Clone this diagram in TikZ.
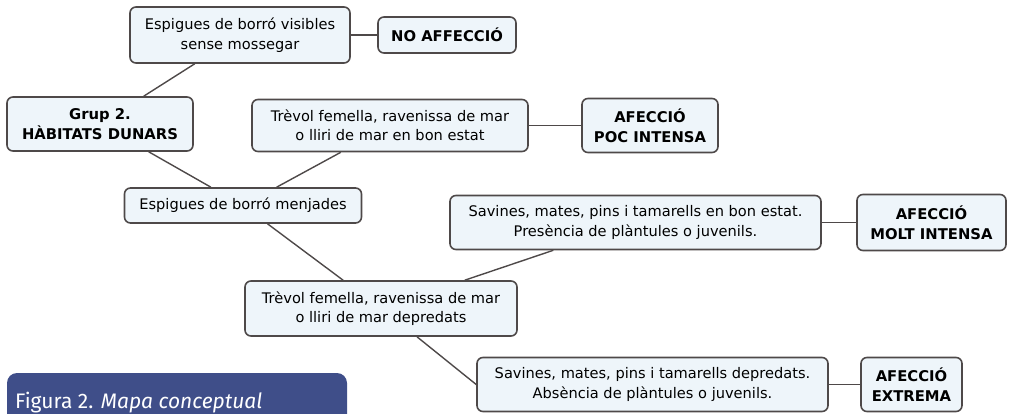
\documentclass[tikz,border=0pt]{standalone}
\usepackage{fontspec}
\setmainfont{DejaVu Sans}
\newfontfamily\peufont{Fira Sans}
\usepackage{tikz}

\definecolor{vora}{HTML}{4E4949}
\definecolor{fons}{HTML}{EEF5FA}
\definecolor{blaupeu}{HTML}{3F4E89}

\tikzset{
  concepte/.style={draw=vora, fill=fons, line width=1.6pt, rounded corners=6pt,
    align=center, inner sep=0pt, font=\fontsize{14.6}{19.5}\selectfont},
  afeccio/.style={concepte, font=\fontsize{14.8}{19.5}\selectfont\bfseries},
  enllac/.style={draw=vora, line width=1.4pt}
}

\begin{document}
\begin{tikzpicture}[x=1pt,y=-1pt]
                \useasboundingbox (0,0) rectangle (1009,414);

                % conceptes
                \node[concepte, minimum width=220pt, minimum height=56pt] (visibles) at (240,35) {Espigues de borró visibles\\sense mossegar};
                \node[afeccio, minimum width=138pt, minimum height=36pt] (noafec) at (447,35) {NO AFFECCIÓ};
                \node[afeccio, minimum width=186pt, minimum height=54pt] (grup) at (100,124) {Grup 2.\\HÀBITATS DUNARS};
                \node[concepte, minimum width=276pt, minimum height=52pt] (trevolbon) at (390,125.5) {Trèvol femella, ravenissa de mar\\o lliri de mar en bon estat};
                \node[afeccio, minimum width=136pt, minimum height=54pt] (poc) at (650,125.5) {AFECCIÓ\\POC INTENSA};
                \node[concepte, minimum width=237pt, minimum height=35pt] (menjades) at (243,205.5) {Espigues de borró menjades};
                \node[concepte, minimum width=371pt, minimum height=54pt] (savbon) at (635.5,222.5) {Savines, mates, pins i tamarells en bon estat.\\Presència de plàntules o juvenils.};
                \node[afeccio, minimum width=149pt, minimum height=56pt] (molt) at (931.5,222.5) {AFECCIÓ\\MOLT INTENSA};
                \node[concepte, minimum width=272pt, minimum height=55pt] (trevoldep) at (381,308.5) {Trèvol femella, ravenissa de mar\\o lliri de mar depredats};
                \node[concepte, minimum width=351pt, minimum height=54pt] (savdep) at (652.5,384.5) {Savines, mates, pins i tamarells depredats.\\Absència de plàntules o juvenils.};
                \node[afeccio, minimum width=101pt, minimum height=54pt] (extrema) at (911.5,384.5) {AFECCIÓ\\EXTREMA};

                % enllaços
                \draw[enllac] (visibles) -- (noafec);
                \draw[enllac] (visibles) -- (grup);
                \draw[enllac] (grup) -- (menjades);
                \draw[enllac] (trevolbon) -- (menjades);
                \draw[enllac] (trevolbon) -- (poc);
                \draw[enllac] (menjades) -- (trevoldep);
                \draw[enllac] (savbon) -- (trevoldep);
                \draw[enllac] (savbon) -- (molt);
                \draw[enllac] ([xshift=36pt]trevoldep.south) -- (savdep.west);
                \draw[enllac] (savdep) -- (extrema);

                % peu de figura
                \begin{scope}
                \clip (0,0) rectangle (1009,414);
                \fill[blaupeu, rounded corners=10pt] (7,373) rectangle (347,440);
                \end{scope}
                \node[anchor=base west, inner sep=0pt, text=white, font=\peufont\fontsize{21}{24}\selectfont] (peu) at (15,408) {Figura 2. \textit{Mapa conceptual}};

            \end{tikzpicture}
\end{document}
